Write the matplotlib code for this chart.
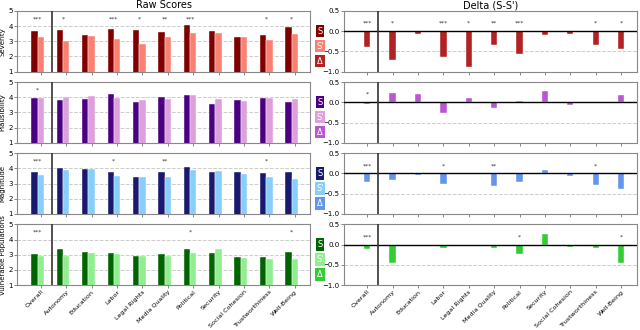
import matplotlib
matplotlib.use('Agg')
import matplotlib.pyplot as plt
import numpy as np

categories = ["Overall", "Autonomy", "Education", "Labor", "Legal Rights",
              "Media Quality", "Political", "Security", "Social Cohesion",
              "Trustworthiness", "Well-Being"]
metrics = ["Severity", "Plausibility", "Magnitude", "Vulnerable Populations"]

severity_s = [3.65, 3.75, 3.41, 3.82, 3.75, 3.58, 4.08, 3.65, 3.30, 3.43, 3.95]
severity_sp = [3.26, 3.04, 3.34, 3.17, 2.85, 3.26, 3.54, 3.56, 3.26, 3.09, 3.49]
severity_delta = [-0.38, -0.72, -0.06, -0.63, -0.89, -0.34, -0.56, -0.10, -0.06, -0.35, -0.44]
severity_stars = ["***", "*", "", "***", "*", "**", "***", "", "", "*", "*"]

plaus_s = [3.97, 3.81, 3.86, 4.21, 3.68, 4.01, 4.14, 3.57, 3.84, 3.92, 3.68]
plaus_sp = [3.92, 4.01, 4.08, 3.93, 3.79, 3.90, 4.16, 3.86, 3.75, 3.92, 3.86]
plaus_delta = [-0.03, 0.22, 0.21, -0.26, 0.10, -0.14, 0.03, 0.28, -0.07, 0.0, 0.17]
plaus_stars = ["*", "", "", "", "", "", "", "", "", "", ""]

magn_s = [3.76, 4.00, 3.98, 3.74, 3.43, 3.74, 4.09, 3.74, 3.74, 3.70, 3.74]
magn_sp = [3.56, 3.89, 3.96, 3.48, 3.43, 3.43, 3.87, 3.80, 3.65, 3.43, 3.33]
magn_delta = [-0.22, -0.15, -0.04, -0.27, 0.0, -0.30, -0.22, 0.08, -0.07, -0.28, -0.38]
magn_stars = ["***", "", "", "*", "", "**", "", "", "", "*", ""]

vuln_s = [3.07, 3.35, 3.17, 3.11, 2.91, 3.02, 3.37, 3.09, 2.83, 2.83, 3.20]
vuln_sp = [2.93, 2.89, 3.11, 3.02, 2.91, 2.93, 3.13, 3.35, 2.76, 2.74, 2.74]
vuln_delta = [-0.12, -0.45, -0.03, -0.08, 0.0, -0.09, -0.24, 0.27, -0.07, -0.09, -0.45]
vuln_stars = ["***", "", "", "", "", "", "*", "", "", "", "*"]

s_vals = [severity_s, plaus_s, magn_s, vuln_s]
sp_vals = [severity_sp, plaus_sp, magn_sp, vuln_sp]
d_vals = [severity_delta, plaus_delta, magn_delta, vuln_delta]
stars = [severity_stars, plaus_stars, magn_stars, vuln_stars]

colors_s = ["#800000", "#4B0082", "#191970", "#006400"]
colors_sp = ["#FA8072", "#DDA0DD", "#87CEFA", "#90EE90"]
colors_d = ["#B22222", "#BA55D3", "#6495ED", "#32CD32"]
legend_labels = ["S", "S'", "\u0394"]

fig = plt.figure(figsize=(6.4, 3.3), dpi=100)
gs = fig.add_gridspec(4, 2, left=0.027, right=0.995, top=0.967, bottom=0.136,
                      hspace=0.17, wspace=0.113)

x = np.arange(len(categories))
w = 0.25
xlim = (-0.93, 10.62)
sep = 0.42
spine_col = "#888888"

for r in range(4):
    axl = fig.add_subplot(gs[r, 0])
    axr = fig.add_subplot(gs[r, 1])

    axl.bar(x - w, s_vals[r], w, bottom=0, color=colors_s[r], edgecolor='white', linewidth=0.3, zorder=3)
    axl.bar(x, sp_vals[r], w, color=colors_sp[r], edgecolor='white', linewidth=0.3, zorder=3)
    axl.set_ylim(1, 5)
    axl.set_yticks([1, 2, 3, 4, 5])
    for yv in [2, 3, 4]:
        axl.axhline(yv, color='#cccccc', linestyle='--', linewidth=0.7, zorder=1)
    axl.axvline(sep, color='#333333', linewidth=1.2, zorder=4)
    axl.set_ylabel(metrics[r], fontsize=5, labelpad=2)
    for i, st in enumerate(stars[r]):
        if st:
            axl.text(x[i] - w / 2, 4.3, st, ha='center', va='bottom', fontsize=4.5, color='#333333')

    axr.bar(x, d_vals[r], w, color=colors_d[r], edgecolor='white', linewidth=0.3, zorder=3)
    axr.set_ylim(-1.0, 0.5)
    axr.set_yticks([-1.0, -0.5, 0.0, 0.5])
    axr.axhline(0, color='black', linewidth=1.0, zorder=4)
    axr.axhline(-0.5, color='#cccccc', linestyle='--', linewidth=0.7, zorder=1)
    axr.axvline(sep, color='#333333', linewidth=1.2, zorder=4)
    for i, st in enumerate(stars[r]):
        if st:
            axr.text(x[i], 0.13, st, ha='center', va='bottom', fontsize=4.5, color='#333333')

    for ax in (axl, axr):
        ax.set_xlim(*xlim)
        ax.set_xticks(x)
        ax.tick_params(axis='both', labelsize=5, length=2, width=0.5, pad=1, color='#555555')
        for sp in ax.spines.values():
            sp.set_color(spine_col)
            sp.set_linewidth(0.8)
        if r == 3:
            ax.set_xticklabels(categories, rotation=45, ha='right', rotation_mode='anchor', fontsize=4.6)
        else:
            ax.set_xticklabels([])

    if r == 0:
        axl.set_title("Raw Scores", fontsize=7, pad=2)
        axr.set_title("Delta (S-S')", fontsize=7, pad=2)

    # legend boxes between panels
    pos = axl.get_position()
    ymid = (pos.y0 + pos.y1) / 2
    cols = [colors_s[r], colors_sp[r], colors_d[r]]
    for k in range(3):
        fig.text(0.5, ymid + 0.031 - k * 0.0455, legend_labels[k], ha='center', va='center',
                 fontsize=6, color='white',
                 bbox=dict(boxstyle='square,pad=0.2', facecolor=cols[k], edgecolor='none'))

fig.savefig("out.png", dpi=100)
